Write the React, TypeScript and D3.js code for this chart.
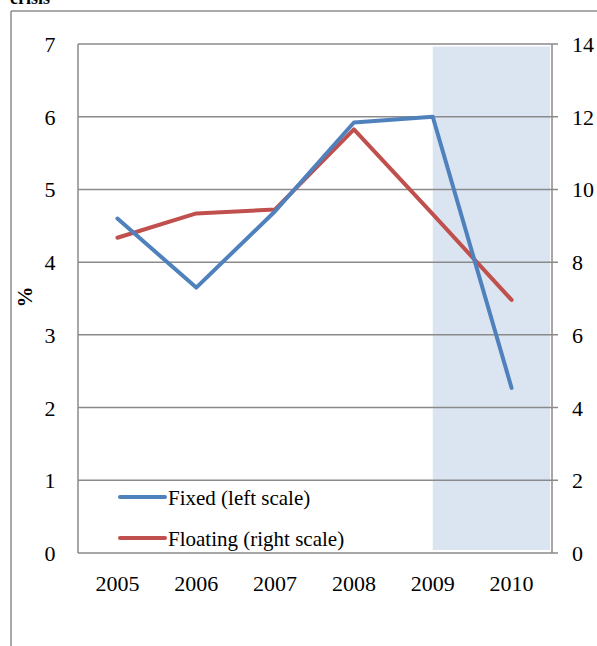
import React, { useRef, useEffect } from "react";
import * as d3 from "d3";

// data
const years = ["2005", "2006", "2007", "2008", "2009", "2010"];
const fixedVals = [4.6, 3.65, 4.7, 5.92, 6.0, 2.27];
const floatingVals = [8.67, 9.34, 9.45, 11.65, 9.32, 6.96];
const leftTicks = [0, 1, 2, 3, 4, 5, 6, 7];
const rightTicks = [0, 2, 4, 6, 8, 10, 12, 14];
const shadedYears = ["2009", "2010"];
const legendItems = [
  { label: "Fixed (left scale)", color: "#4f81bd" },
  { label: "Floating (right scale)", color: "#c0504d" },
];

const W = 597;
const H = 646;
const FONT = "'Liberation Serif', 'DejaVu Serif', serif";

const App = () => {
  const svgRef = useRef<SVGSVGElement>(null);

  useEffect(() => {
    const svg = d3.select(svgRef.current);
    svg.selectAll("*").remove();

    const left = 78, right = 552, top = 44, bottom = 553;

    const x = d3.scaleBand().domain(years).range([left, right - 1]).padding(0);
    const cx = (d: string) => (x(d) as number) + x.bandwidth() / 2;
    const yL = d3.scaleLinear().domain([0, 7]).range([bottom, top]);
    const yR = d3.scaleLinear().domain([0, 14]).range([bottom, top]);

    // outer frame (from the surrounding document)
    svg.append("line")
      .attr("x1", 11).attr("x2", 11).attr("y1", 11).attr("y2", H)
      .attr("stroke", "#8c8c8c").attr("stroke-width", 1.5);
    svg.append("line")
      .attr("x1", 11).attr("x2", W).attr("y1", 11).attr("y2", 11)
      .attr("stroke", "#8c8c8c").attr("stroke-width", 1.5);
    svg.append("text")
      .attr("x", 10).attr("y", 4)
      .attr("font-family", FONT).attr("font-size", 18).attr("font-weight", "bold")
      .text("crisis");

    // shaded crisis period
    const x0 = cx(shadedYears[0]);
    svg.append("rect")
      .attr("x", x0)
      .attr("y", yL(7) + 2.5)
      .attr("width", right - 2 - x0)
      .attr("height", yL(0) - yL(7) - 5.5)
      .attr("fill", "#dbe5f1");

    // gridlines (with outer ticks on the right)
    svg.append("g")
      .selectAll("line")
      .data(leftTicks)
      .join("line")
      .attr("x1", left).attr("x2", right + 6)
      .attr("y1", d => yL(d)).attr("y2", d => yL(d))
      .attr("stroke", "#8a8a8a").attr("stroke-width", 1.5);

    // axis lines
    svg.append("line")
      .attr("x1", left).attr("x2", left).attr("y1", top).attr("y2", bottom)
      .attr("stroke", "#8a8a8a").attr("stroke-width", 1.5);
    svg.append("line")
      .attr("x1", right).attr("x2", right).attr("y1", top).attr("y2", bottom)
      .attr("stroke", "#8a8a8a").attr("stroke-width", 1.5);

    // tick labels
    svg.append("g")
      .selectAll("text")
      .data(leftTicks)
      .join("text")
      .attr("x", 50).attr("y", d => yL(d) + 8)
      .attr("text-anchor", "middle")
      .attr("font-family", FONT).attr("font-size", 22)
      .text(d => d);
    svg.append("g")
      .selectAll("text")
      .data(rightTicks)
      .join("text")
      .attr("x", 572).attr("y", d => yR(d) + 8)
      .attr("text-anchor", "start")
      .attr("font-family", FONT).attr("font-size", 22)
      .text(d => d);
    svg.append("g")
      .selectAll("text")
      .data(years)
      .join("text")
      .attr("x", d => cx(d)).attr("y", 591)
      .attr("text-anchor", "middle")
      .attr("font-family", FONT).attr("font-size", 22)
      .text(d => d);

    svg.append("text")
      .attr("transform", "translate(32, 297) rotate(-90)")
      .attr("text-anchor", "middle")
      .attr("font-family", FONT).attr("font-size", 21).attr("font-weight", "bold")
      .text("%");

    // series
    const lineL = d3.line<number>().x((d, i) => cx(years[i])).y(d => yL(d));
    const lineR = d3.line<number>().x((d, i) => cx(years[i])).y(d => yR(d));

    svg.append("path")
      .datum(floatingVals)
      .attr("fill", "none")
      .attr("stroke", legendItems[1].color)
      .attr("stroke-width", 4)
      .attr("stroke-linecap", "round")
      .attr("stroke-linejoin", "round")
      .attr("d", lineR);

    svg.append("path")
      .datum(fixedVals)
      .attr("fill", "none")
      .attr("stroke", legendItems[0].color)
      .attr("stroke-width", 4)
      .attr("stroke-linecap", "round")
      .attr("stroke-linejoin", "round")
      .attr("d", lineL);

    // legend
    const lg = svg.append("g")
      .selectAll("g")
      .data(legendItems)
      .join("g")
      .attr("transform", (d, i) => `translate(120, ${497 + i * 41})`);
    lg.append("line")
      .attr("x1", 0).attr("x2", 45).attr("y1", 0).attr("y2", 0)
      .attr("stroke", d => d.color).attr("stroke-width", 4)
      .attr("stroke-linecap", "round");
    lg.append("text")
      .attr("x", 48).attr("y", 8)
      .attr("font-family", FONT).attr("font-size", 21)
      .text(d => d.label);
  }, []);

  return (
    <svg
      ref={svgRef}
      width={W}
      height={H}
      style={{ position: "absolute", left: 0, top: 0, background: "#fff" }}
    />
  );
};

export default App;
